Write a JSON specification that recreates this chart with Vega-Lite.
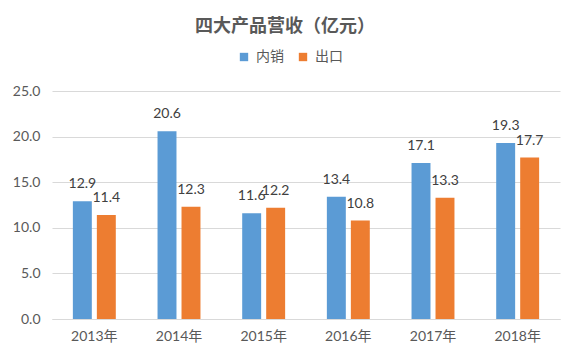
{
  "$schema": "https://vega.github.io/schema/vega-lite/v6.json",
  "width": 508,
  "height": 228,
  "autosize": {"type": "none"},
  "padding": {"left": 52, "top": 91, "right": 17, "bottom": 42},
  "background": "white",
  "title": {
    "text": "四大产品营收（亿元）",
    "font": "Noto Sans CJK SC",
    "fontSize": 18,
    "fontWeight": "bold",
    "color": "#595959",
    "anchor": "middle",
    "frame": "group",
    "dx": -21,
    "offset": 14
  },
  "config": {
    "view": {"stroke": null},
    "font": "Lato, Noto Sans CJK SC"
  },
  "data": {
    "values": [
      {"year": "2013年", "type": "内销", "value": 12.9},
      {"year": "2013年", "type": "出口", "value": 11.4},
      {"year": "2014年", "type": "内销", "value": 20.6},
      {"year": "2014年", "type": "出口", "value": 12.3},
      {"year": "2015年", "type": "内销", "value": 11.6},
      {"year": "2015年", "type": "出口", "value": 12.2},
      {"year": "2016年", "type": "内销", "value": 13.4},
      {"year": "2016年", "type": "出口", "value": 10.8},
      {"year": "2017年", "type": "内销", "value": 17.1},
      {"year": "2017年", "type": "出口", "value": 13.3},
      {"year": "2018年", "type": "内销", "value": 19.3},
      {"year": "2018年", "type": "出口", "value": 17.7}
    ]
  },
  "encoding": {
    "x": {
      "field": "year",
      "type": "nominal",
      "scale": {"paddingInner": 0, "paddingOuter": 0},
      "axis": {
        "title": null,
        "labelAngle": 0,
        "domainColor": "#D9D9D9",
        "ticks": false,
        "labelPadding": 10,
        "labelFont": "Lato, Noto Sans CJK SC",
        "labelFontSize": 14,
        "labelColor": "#595959"
      }
    },
    "xOffset": {
      "field": "type",
      "type": "nominal",
      "sort": ["内销", "出口"],
      "scale": {"paddingInner": 0.21, "paddingOuter": 0.87}
    },
    "y": {
      "field": "value",
      "type": "quantitative",
      "scale": {"domain": [0, 25]},
      "axis": {
        "title": null,
        "values": [0, 5, 10, 15, 20, 25],
        "format": ".1f",
        "gridColor": "#D9D9D9",
        "domain": false,
        "ticks": false,
        "labelPadding": 12,
        "labelFont": "Lato, Noto Sans CJK SC",
        "labelFontSize": 14,
        "labelColor": "#595959"
      }
    }
  },
  "layer": [
    {
      "mark": {"type": "bar"},
      "encoding": {
        "color": {
          "field": "type",
          "type": "nominal",
          "scale": {"domain": ["内销", "出口"], "range": ["#5B9BD5", "#ED7D31"]},
          "legend": {
            "title": null,
            "orient": "none",
            "legendX": 185,
            "legendY": -41,
            "direction": "horizontal",
            "symbolType": "square",
            "symbolSize": 70,
            "symbolStrokeWidth": 0,
            "labelFont": "Noto Sans CJK SC",
            "labelFontSize": 14,
            "labelColor": "#595959",
            "columnPadding": 12,
            "labelOffset": 5
          }
        }
      }
    },
    {
      "mark": {
        "type": "text",
        "baseline": "middle",
        "dy": -17,
        "fontSize": 14,
        "color": "#404040",
        "font": "Lato"
      },
      "encoding": {
        "text": {"field": "value", "type": "quantitative", "format": ".1f"}
      }
    }
  ]
}
